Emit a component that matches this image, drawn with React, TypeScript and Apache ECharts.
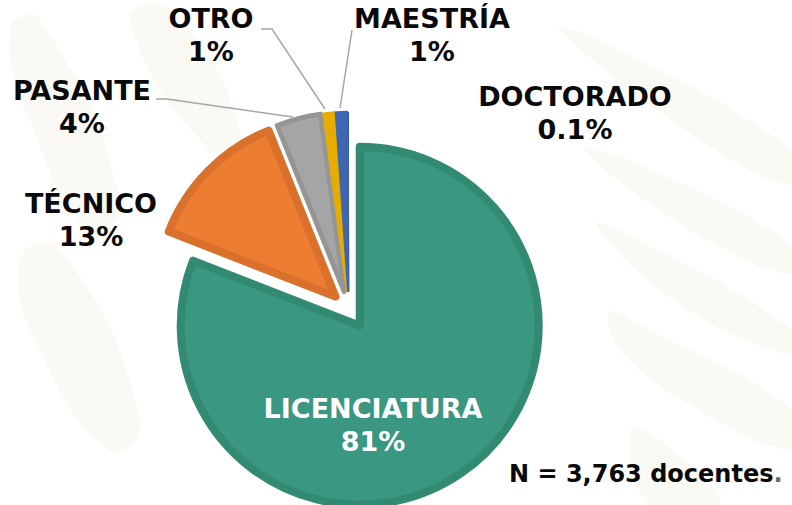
import React, { useEffect, useRef } from "react";
import * as echarts from "echarts";

// ---- data ----
const categories = ["LICENCIATURA", "TÉCNICO", "PASANTE", "OTRO", "MAESTRÍA", "DOCTORADO"];
const percentages = [81, 13, 4, 1, 1, 0.1];
const sampleNote = "N = 3,763 docentes";

// ---- styles ----
const fillColors = ["#3a9882", "#ed7d31", "#a5a5a5", "#e6ad00", "#3e66b3", "#2f5597"];
const borderColors = ["#338a73", "#d9702c", "#959595", "#e6ad00", "#3e66b3", "#2f5597"];
const borderWidths = [8, 8, 5, 2.5, 2.5, 0];
const labelColors = ["#ffffff", "#0a0a0a", "#0a0a0a", "#0a0a0a", "#0a0a0a", "#0a0a0a"];

// label anchor positions (pixel layout) and leader lines
const labelAnchors: number[][] = [
  [373, 425],
  [91, 220],
  [82, 107],
  [211, 35],
  [432, 35],
  [575, 113],
];
const leaderLines: Record<number, number[][]> = {
  2: [[156, 99], [167, 99], [293, 117]],
  3: [[261, 29], [272, 29], [325, 109]],
  4: [[352, 30], [340, 108]],
};

const FONT = "'DejaVu Sans', sans-serif";
const BG = "#fbf9f3";

export default function App() {
  const ref = useRef<HTMLDivElement>(null);

  useEffect(() => {
    if (!ref.current) return;
    const chart = echarts.init(ref.current, undefined, { renderer: "svg" });

    const data = categories.map((name, i) => {
      const itemStyle = {
        color: fillColors[i],
        borderColor: borderColors[i],
        borderWidth: borderWidths[i],
      };
      return {
        name,
        value: percentages[i],
        selected: true,
        itemStyle,
        select: { itemStyle },
      };
    });

    const bgShapes: any[] = [
      { type: "polygon", shape: { points: [[560, 30], [600, 40], [792, 150], [792, 185], [700, 140]], smooth: 0.4 } },
      { type: "polygon", shape: { points: [[585, 150], [640, 165], [792, 245], [792, 275], [690, 230]], smooth: 0.4 } },
      { type: "polygon", shape: { points: [[597, 225], [640, 240], [792, 330], [792, 355], [680, 305]], smooth: 0.4 } },
      { type: "polygon", shape: { points: [[610, 312], [650, 330], [792, 410], [792, 450], [690, 405], [620, 350]], smooth: 0.4 } },
      { type: "polygon", shape: { points: [[630, 430], [660, 440], [720, 505], [650, 505]], smooth: 0.4 } },
      { type: "polygon", shape: { points: [[10, 30], [40, 20], [120, 200], [90, 230], [30, 120]], smooth: 0.5 } },
      { type: "polygon", shape: { points: [[20, 260], [60, 250], [140, 420], [110, 450], [40, 350]], smooth: 0.5 } },
      { type: "polygon", shape: { points: [[130, 20], [170, 10], [240, 130], [210, 150]], smooth: 0.5 } },
    ].map((s) => ({ ...s, z: -10, silent: true, style: { fill: BG } }));

    const labelTexts = categories.map((name, i) => ({
      type: "text",
      x: labelAnchors[i][0],
      y: labelAnchors[i][1],
      z: 10,
      silent: true,
      style: {
        text: `${name}\n${percentages[i]}%`,
        align: "center",
        verticalAlign: "middle",
        fontFamily: FONT,
        fontWeight: "bold",
        fontSize: 27,
        lineHeight: 33,
        fill: labelColors[i],
      },
    }));

    const lines = Object.keys(leaderLines).map((k) => ({
      type: "polyline",
      z: 9,
      silent: true,
      shape: { points: leaderLines[Number(k)] },
      style: { stroke: "#a6a6a6", lineWidth: 1.5, fill: null },
    }));

    chart.setOption({
      animation: false,
      backgroundColor: "#ffffff",
      graphic: [
        ...bgShapes,
        ...lines,
        ...labelTexts,
        {
          type: "text",
          x: 509,
          y: 474,
          z: 10,
          silent: true,
          style: {
            text: `{a|${sampleNote}}{b|.}`,
            verticalAlign: "middle",
            rich: {
              a: { fontFamily: FONT, fontWeight: "bold", fontSize: 24, fill: "#0a0a0a" },
              b: { fontFamily: FONT, fontWeight: "bold", fontSize: 24, fill: "#6b6b6b" },
            },
          },
        },
      ],
      series: [
        {
          type: "pie",
          center: [349, 310],
          radius: 179,
          startAngle: 90,
          clockwise: true,
          selectedMode: "multiple",
          selectedOffset: 19,
          silent: true,
          emphasis: { disabled: true, scale: false },
          label: { show: false },
          labelLine: { show: false },
          data,
        },
      ],
    });

    return () => chart.dispose();
  }, []);

  return (
    <div
      ref={ref}
      style={{ position: "fixed", left: 0, top: 0, width: 792, height: 505, background: "#ffffff" }}
    />
  );
}
